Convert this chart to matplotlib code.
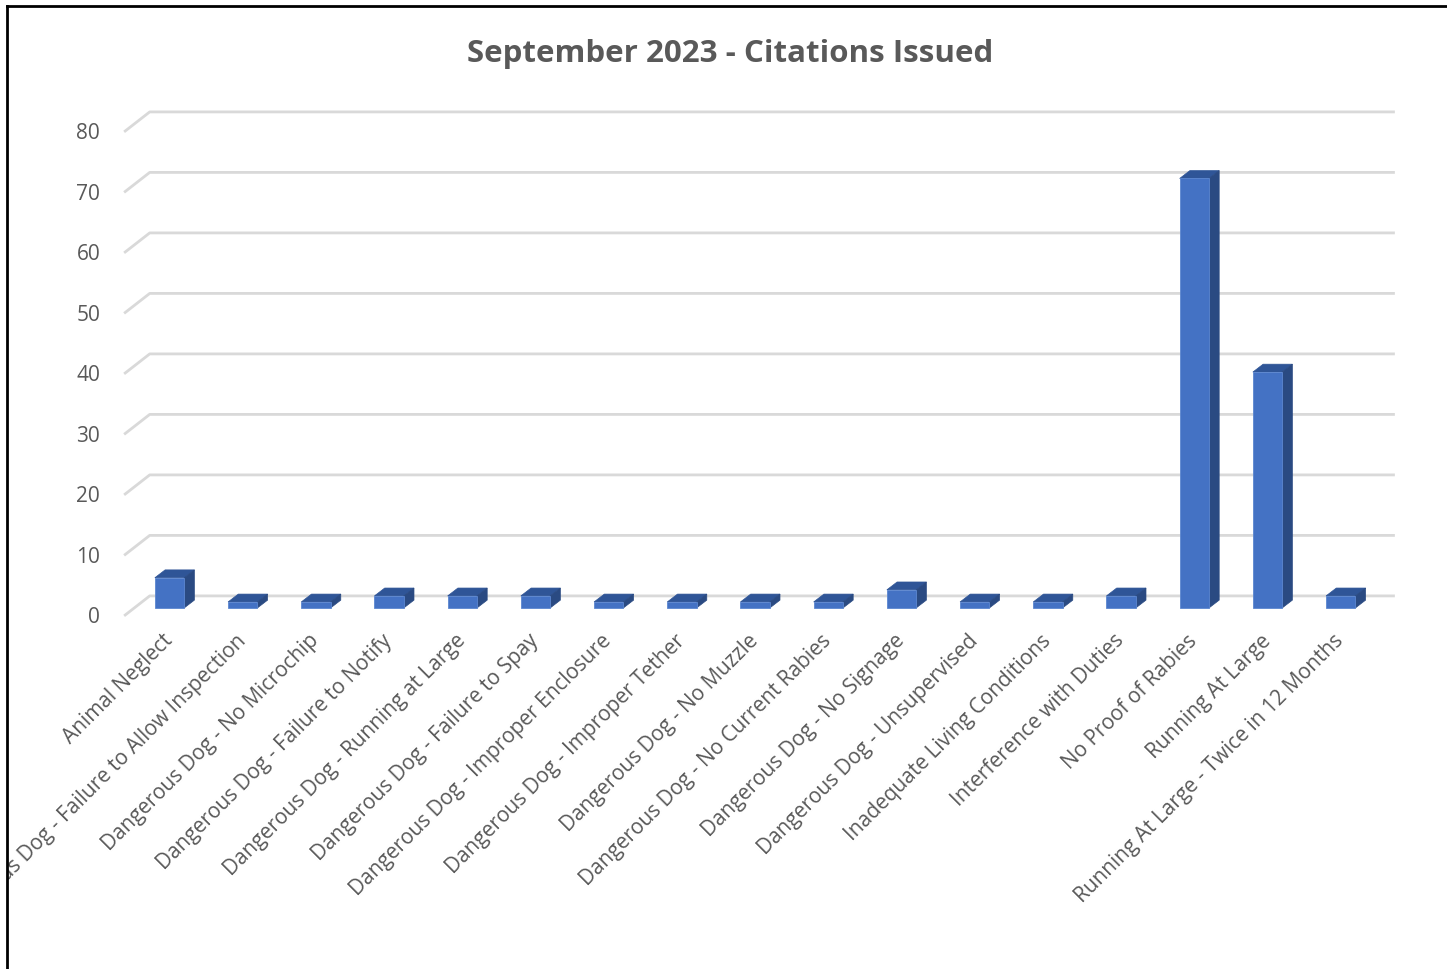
import numpy as np
import matplotlib
matplotlib.use("Agg")
import matplotlib.pyplot as plt
from matplotlib.patches import Polygon, Rectangle
from matplotlib.lines import Line2D

#%% data

categories = [
    "Animal Neglect",
    "Dangerous Dog - Failure to Allow Inspection",
    "Dangerous Dog - No Microchip",
    "Dangerous Dog - Failure to Notify",
    "Dangerous Dog - Running at Large",
    "Dangerous Dog - Failure to Spay",
    "Dangerous Dog - Improper Enclosure",
    "Dangerous Dog - Improper Tether",
    "Dangerous Dog - No Muzzle",
    "Dangerous Dog - No Current Rabies",
    "Dangerous Dog - No Signage",
    "Dangerous Dog - Unsupervised",
    "Inadequate Living Conditions",
    "Interference with Duties",
    "No Proof of Rabies",
    "Running At Large",
    "Running At Large - Twice in 12 Months",
]
citations = [5, 1, 1, 2, 2, 2, 1, 1, 1, 1, 3, 1, 1, 2, 71, 39, 2]
y_ticks = [0, 10, 20, 30, 40, 50, 60, 70, 80]
title = "September 2023 - Citations Issued"

#%% style

FRONT = "#4472c4"
TOP = "#2f5597"
SIDE = "#2a4a82"
GRID = "#d9d9d9"
TEXT = "#595959"
FONT = "Open Sans"

W, H = 1447, 970
px_x = 73.2      # pixels per category
px_y = 6.05      # pixels per citation
x0_px = 169.5    # pixel x of first category
y0_px = 609      # pixel y of value 0 (front face)

xlim = (-0.7, 16.9)
ylim = (-2.0, 84.0)

fig = plt.figure(figsize=(W / 100, H / 100), dpi=100)
left = x0_px + xlim[0] * px_x
right = x0_px + xlim[1] * px_x
bottom = y0_px - ylim[0] * px_y
top = y0_px - ylim[1] * px_y
ax = fig.add_axes([left / W, 1 - bottom / H, (right - left) / W, (bottom - top) / H])
ax.set_xlim(xlim)
ax.set_ylim(ylim)
for s in ax.spines.values():
    s.set_visible(False)

# 3d-ish gridlines: front stub + back wall line
front_off, back_off = -1.3, 2.0
for t in y_ticks:
    ax.plot([-0.62, -0.27, 16.74], [t + front_off, t + back_off, t + back_off],
            color=GRID, lw=2, zorder=1, solid_capstyle="butt")

# bars with top and side faces
x = np.arange(len(categories))
bw = 0.4
dx, dy = 0.14, 1.3
ax.bar(x, citations, width=bw, color=FRONT, edgecolor="#5b86d0", lw=0.6, zorder=3)
for xi, v in zip(x, citations):
    xl, xr = xi - bw / 2, xi + bw / 2
    ax.add_patch(Polygon([(xl, v), (xr, v), (xr + dx, v + dy), (xl + dx, v + dy)],
                         closed=True, fc=TOP, ec=TOP, lw=0.5, zorder=2))
    ax.add_patch(Polygon([(xr, 0), (xr + dx, dy), (xr + dx, v + dy), (xr, v)],
                         closed=True, fc=SIDE, ec=SIDE, lw=0.5, zorder=2))

ax.set_yticks([t + front_off + 0.3 for t in y_ticks])
ax.set_yticklabels([str(t) for t in y_ticks], fontfamily=FONT, fontsize=15, color=TEXT)
ax.tick_params(axis="y", length=0, pad=13)

ax.set_xticks(x)
ax.set_xticklabels(categories, rotation=45, ha="right", va="center",
                   rotation_mode="anchor", fontfamily=FONT, fontsize=15, color=TEXT)
ax.tick_params(axis="x", length=0, pad=12)

fig.text(730 / W, 1 - 54 / H, title, ha="center", va="center",
         fontfamily=FONT, fontsize=22.5, fontweight="bold", color=TEXT)

# screenshot frame: white margin and black lines on left / top
fig.add_artist(Rectangle((0, 0), 7 / W, 1, transform=fig.transFigure,
                         fc="white", ec="none", zorder=5))
fig.add_artist(Line2D([7 / W, 7 / W], [0, 1 - 7 / H], color="black", lw=2, zorder=6))
fig.add_artist(Line2D([7 / W, 1], [1 - 7 / H, 1 - 7 / H], color="black", lw=2, zorder=6))

fig.savefig("out.png", dpi=100, facecolor="white")
